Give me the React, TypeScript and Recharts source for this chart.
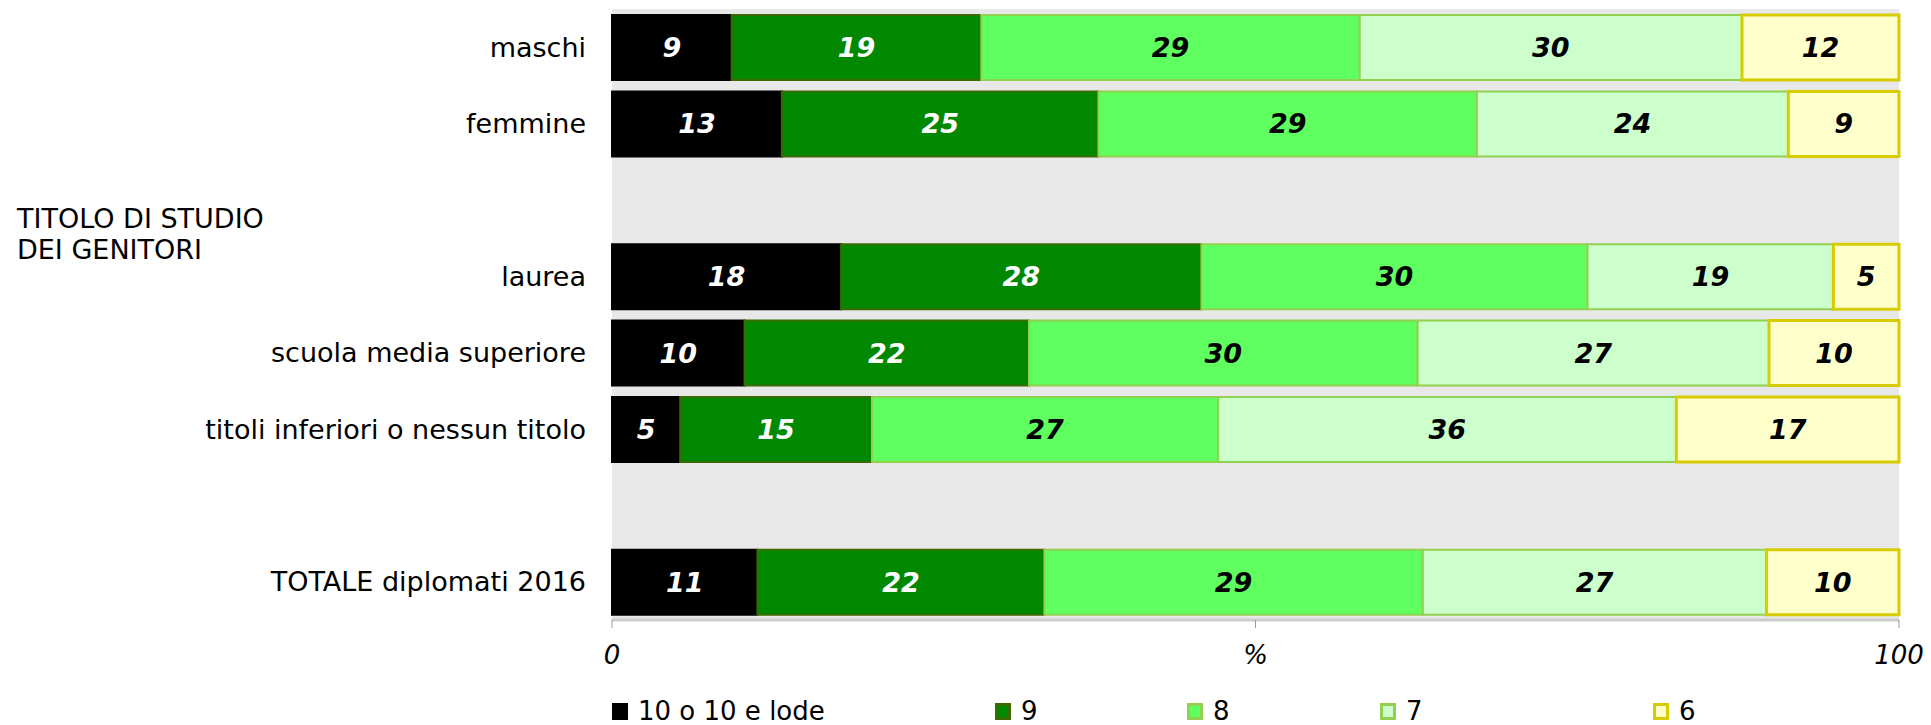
import { Bar, BarChart, CartesianGrid, LabelList, XAxis, YAxis } from "recharts";

const categories = [
  "maschi",
  "femmine",
  "TITOLO DI STUDIO\nDEI GENITORI",
  "laurea",
  "scuola media superiore",
  "titoli inferiori o nessun titolo",
  " ",
  "TOTALE diplomati 2016",
];

// values (%); labels show them rounded
const voto10 = [9.3, 13.2, null, 17.8, 10.3, 5.3, null, 11.3];
const voto9 = [19.4, 24.6, null, 28.0, 22.1, 14.9, null, 22.3];
const voto8 = [29.4, 29.4, null, 30.0, 30.2, 26.9, null, 29.4];
const voto7 = [29.7, 24.2, null, 19.1, 27.3, 35.6, null, 26.7];
const voto6 = [12.2, 8.6, null, 5.1, 10.1, 17.3, null, 10.3];

const seriesNames = ["10 o 10 e lode", "9", "8", "7", "6"];
const xTicks = [0, 50, 100];

const series = [
  { key: "v10", name: seriesNames[0], values: voto10, fill: "#000000", stroke: "#000000", label: "#ffffff" },
  { key: "v9", name: seriesNames[1], values: voto9, fill: "#008800", stroke: "#3b6a00", label: "#ffffff" },
  { key: "v8", name: seriesNames[2], values: voto8, fill: "#5fff5f", stroke: "#92d050", label: "#000000" },
  { key: "v7", name: seriesNames[3], values: voto7, fill: "#ccffcc", stroke: "#92d050", label: "#000000" },
  { key: "v6", name: seriesNames[4], values: voto6, fill: "#ffffcc", stroke: "#d6cc00", label: "#000000" },
];

const data = categories.map((name, i) => {
  const row: Record<string, string | number | null> = { name };
  series.forEach((s) => (row[s.key] = s.values[i]));
  return row;
});

const FONT = "'DejaVu Sans', Verdana, sans-serif";

function CategoryTick({ x, y, payload }: any) {
  const lines = String(payload.value).split("\n");
  if (lines.length > 1) {
    return (
      <g>
        {lines.map((line, i) => (
          <text key={i} x={17} y={y + 19 + i * 31} dominantBaseline="central" fontSize={27} fill="#000" fontFamily={FONT}>
            {line}
          </text>
        ))}
      </g>
    );
  }
  return (
    <text x={x} y={y} textAnchor="end" dominantBaseline="central" fontSize={27} fill="#000" fontFamily={FONT}>
      {payload.value}
    </text>
  );
}

const legendLeft = [612, 995, 1187, 1380, 1653];

export default function App() {
  return (
    <div style={{ position: "absolute", left: 0, top: 0, width: 1931, height: 725, background: "#fff", fontFamily: FONT }}>
      <BarChart
        width={1931}
        height={725}
        data={data}
        layout="vertical"
        margin={{ top: 9, right: 32, bottom: 75, left: 0 }}
      >
        <CartesianGrid fill="#e8e8e8" stroke="none" horizontal={false} vertical={false} />
        <XAxis
          type="number"
          domain={[0, 100]}
          ticks={xTicks}
          tickFormatter={(v) => (v === 50 ? "%" : String(v))}
          axisLine={{ stroke: "#cccccc", strokeWidth: 3 }}
          tickLine={{ stroke: "#999999" }}
          tickSize={8}
          tickMargin={18}
          height={30}
          tick={{ fontSize: 26, fontStyle: "italic", fill: "#000", fontFamily: FONT }}
        />
        <YAxis
          type="category"
          dataKey="name"
          width={612}
          axisLine={false}
          tickLine={false}
          tickSize={0}
          tickMargin={26}
          interval={0}
          tick={<CategoryTick />}
        />
        {series.map((s) => (
          <Bar
            key={s.key}
            dataKey={s.key}
            name={s.name}
            stackId="a"
            barSize={65}
            fill={s.fill}
            stroke={s.stroke}
            strokeWidth={s.key === "v6" ? 3 : 2}
            isAnimationActive={false}
          >
            <LabelList
              dataKey={s.key}
              position="center"
              formatter={(v: any) => (v == null ? "" : Math.round(v))}
              fill={s.label}
              fontSize={27}
              fontWeight="bold"
              fontStyle="italic"
              fontFamily={FONT}
            />
          </Bar>
        ))}
      </BarChart>
      {series.map((s, i) => (
        <div
          key={s.key}
          style={{ position: "absolute", left: legendLeft[i], top: 696, height: 30, display: "flex", alignItems: "center", fontSize: 26, color: "#000" }}
        >
          <span
            style={{
              display: "inline-block",
              width: 16,
              height: 17,
              boxSizing: "border-box",
              background: s.fill,
              border: i === 0 ? "none" : `3px solid ${s.stroke}`,
              marginRight: 10,
            }}
          />
          {s.name}
        </div>
      ))}
    </div>
  );
}
